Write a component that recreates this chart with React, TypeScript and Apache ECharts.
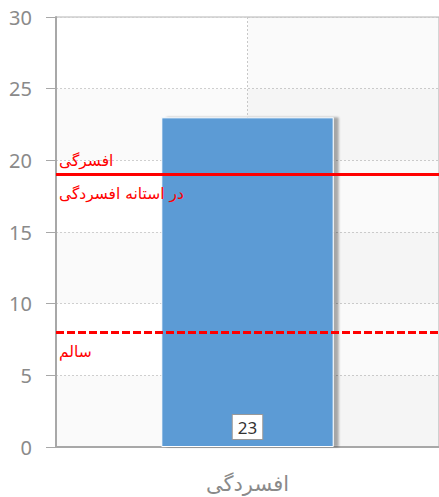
import React, { useEffect, useRef } from "react";
import * as echarts from "echarts";

const categories = ["افسردگی"];
const values = [23];
const yTicks = { min: 0, max: 30, interval: 5 };
const upperLevel = 19;
const upperLabelAbove = "افسرگی";
const upperLabelBelow = "در استانه افسردگی";
const lowerLevel = 8;
const lowerLabel = "سالم";

export default function App() {
  const ref = useRef<HTMLDivElement>(null);
  useEffect(() => {
    if (!ref.current) return;
    const chart = echarts.init(ref.current, null, { renderer: "svg" });
    const red = "#ff0000";
    chart.setOption({
      animation: false,
      grid: {
        left: 56,
        top: 17,
        width: 386,
        height: 430,
        show: true,
        borderColor: "#b4b4b4",
        borderWidth: 1,
        backgroundColor: "transparent",
      },
      xAxis: [
        {
          type: "category",
          data: categories,
          axisLine: { lineStyle: { color: "#a8a8a8", width: 2 } },
          axisTick: { alignWithLabel: true, length: 10, lineStyle: { color: "#a8a8a8", width: 1 } },
          axisLabel: { color: "#8a8a8a", fontSize: 21, fontFamily: "DejaVu Sans", margin: 26 },
          splitLine: { show: false },
        },
        {
          type: "value",
          min: 0,
          max: 2,
          interval: 1,
          position: "top",
          axisLine: { show: false },
          axisTick: { show: false },
          axisLabel: { show: false },
          splitLine: {
            show: true,
            showMinLine: false,
            showMaxLine: false,
            lineStyle: { color: "#c8c8c8", type: [2, 2], width: 1 },
          },
          splitArea: { show: true, areaStyle: { color: ["rgba(0,0,0,0)", "rgba(0,0,0,0.018)"] } },
        },
      ],
      yAxis: {
        type: "value",
        min: yTicks.min,
        max: yTicks.max,
        interval: yTicks.interval,
        axisLine: { show: true, lineStyle: { color: "#a8a8a8", width: 2 } },
        axisTick: { show: true, length: 10, lineStyle: { color: "#a8a8a8", width: 1 } },
        axisLabel: { color: "#8a8a8a", fontSize: 20, fontFamily: "Noto Sans", margin: 24 },
        splitLine: { show: true, lineStyle: { color: "#cfcfcf", type: [2, 2], width: 1 } },
        splitArea: { show: true, areaStyle: { color: ["rgba(0,0,0,0.018)", "rgba(0,0,0,0)"] } },
      },
      series: [
        {
          type: "bar",
          xAxisIndex: 0,
          data: values,
          barWidth: "45%",
          itemStyle: {
            color: "#5b9bd5",
            borderColor: "#ffffff",
            borderWidth: 1,
            shadowColor: "rgba(0,0,0,0.32)",
            shadowBlur: 2,
            shadowOffsetX: 5,
            shadowOffsetY: 0,
          },
          label: {
            show: true,
            position: "insideBottom",
            distance: 8,
            color: "#333333",
            fontSize: 17,
            fontFamily: "Noto Sans",
            backgroundColor: "#ffffff",
            borderColor: "#999999",
            borderWidth: 1,
            padding: [4, 5, 3, 5],
          },
          markLine: {
            symbol: "none",
            silent: true,
            data: [
              {
                yAxis: upperLevel,
                lineStyle: { color: red, width: 3, type: "solid" },
                label: {
                  position: "insideStartTop",
                  formatter: upperLabelAbove,
                  color: red,
                  fontSize: 15.5,
                  fontFamily: "DejaVu Sans",
                  distance: [3, 6],
                },
              },
              {
                yAxis: upperLevel,
                lineStyle: { color: red, width: 3, type: "solid" },
                label: {
                  position: "insideStartBottom",
                  formatter: upperLabelBelow,
                  color: red,
                  fontSize: 15.5,
                  fontFamily: "DejaVu Sans",
                  distance: [3, 11],
                },
              },
              {
                yAxis: lowerLevel,
                lineStyle: { color: red, width: 3, type: [8, 3] },
                label: {
                  position: "insideStartBottom",
                  formatter: lowerLabel,
                  color: red,
                  fontSize: 15.5,
                  fontFamily: "DejaVu Sans",
                  distance: [3, 12],
                },
              },
            ],
          },
        },
      ],
    });
    return () => chart.dispose();
  }, []);
  return (
    <div
      ref={ref}
      style={{ position: "fixed", left: 0, top: 0, width: 439, height: 497, background: "#ffffff" }}
    />
  );
}
